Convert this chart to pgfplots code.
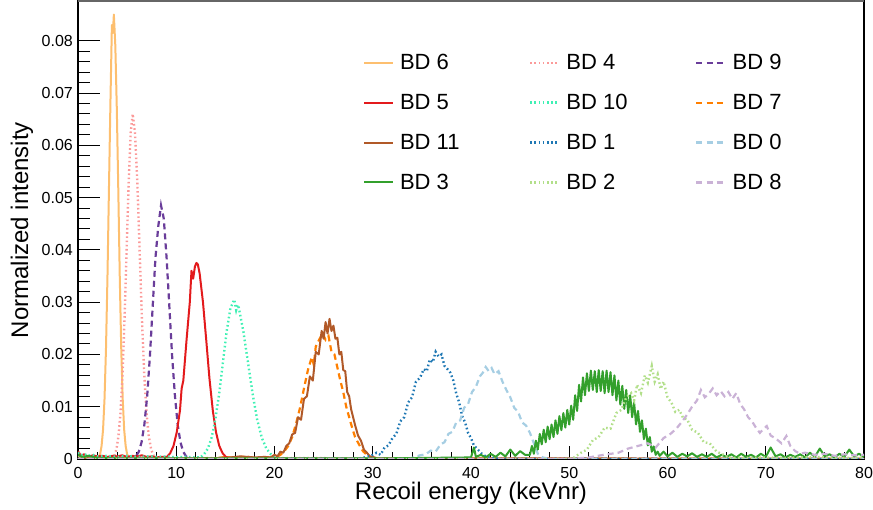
\documentclass[border=0pt]{standalone}
\usepackage{fontspec}
\setmainfont{Liberation Sans}
\usepackage{pgfplots}
\pgfplotsset{compat=1.18}
\definecolor{cSix}{HTML}{FDBF6F}
\definecolor{cFive}{HTML}{E31A1C}
\definecolor{cEleven}{HTML}{B15928}
\definecolor{cThree}{HTML}{33A02C}
\definecolor{cFour}{HTML}{FB9A99}
\definecolor{cTen}{HTML}{40F0B4}
\definecolor{cOne}{HTML}{1F78B4}
\definecolor{cTwo}{HTML}{B2DF8A}
\definecolor{cNine}{HTML}{6A3D9A}
\definecolor{cSeven}{HTML}{FF7F00}
\definecolor{cZero}{HTML}{A6CEE3}
\definecolor{cEight}{HTML}{CAB2D6}
\newcommand{\legtxt}[1]{\hspace{6pt}\makebox[129pt][l]{\rule[-4pt]{0pt}{20pt}#1}}
\tikzset{
  solidln/.style={line width=2pt, line join=round},
  dotln/.style={line width=2.4pt, dash pattern=on 1.6pt off 2.6pt},
  dashln/.style={line width=2.2pt, dash pattern=on 6pt off 4pt},
}
\begin{document}
\begin{tikzpicture}
\begin{axis}[
  name=ax, scale only axis, width=786pt, height=458pt,
  xmin=0, xmax=80, ymin=0, ymax=0.0876,
  xtick={0,10,20,30,40,50,60,70,80},
  xticklabels={0,10,20,30,40,50,60,70,80},
  ytick={0,0.01,0.02,0.03,0.04,0.05,0.06,0.07,0.08},
  yticklabels={0,0.01,0.02,0.03,0.04,0.05,0.06,0.07,0.08},
  minor x tick num=4, minor y tick num=4,
  tick align=inside, xtick pos=left, ytick pos=left,
  major tick length=22pt, minor tick length=12pt,
  xtick style={/pgfplots/major tick length=13pt,/pgfplots/minor tick length=6.5pt},
  tick style={black, line width=1pt},
  axis line style={black, line width=1.5pt},
  ticklabel style={font=\fontsize{16}{19}\selectfont},
  xticklabel style={anchor=north, inner sep=0pt, yshift=-8pt},
  yticklabel style={anchor=east, inner sep=0pt, xshift=-5pt},
  xlabel={Recoil energy (keVnr)}, ylabel={Normalized intensity},
  label style={font=\fontsize{24}{28}\selectfont},
  xlabel style={at={(axis description cs:0.5,-0.0895)}, anchor=base, inner sep=0pt},
  ylabel style={at={(axis description cs:-0.0712,0.5)}, anchor=center, inner sep=0pt},
  legend columns=3,
  legend cell align=left,
  legend style={draw=none, fill=none, inner sep=0pt, outer sep=0pt,
    at={(rel axis cs:0.3626,0.8843)}, anchor=north west,
    font=\fontsize{22}{26}\selectfont, nodes={inner sep=0pt},
    row sep=22.4pt, column sep=0pt},
  legend image code/.code={\draw[#1] (0pt,0pt) -- (29pt,0pt);},
]
% BD 6
\addplot[cSix, solidln] coordinates {(0,0.0006)(0.4,0.0003)(0.8,0.0004)(1.2,0.0002)(1.6,0.0003)(2.0,0.0002)(2.25,0.0009)(2.4,0.0025)(2.55,0.0056)(2.7,0.0115)(2.85,0.0212)(3.0,0.0349)(3.15,0.0516)(3.3,0.0681)(3.45,0.0830)(3.55,0.0815)(3.65,0.0850)(3.8,0.0790)(3.95,0.0670)(4.1,0.0516)(4.25,0.0349)(4.4,0.0212)(4.55,0.0115)(4.7,0.0056)(4.85,0.0025)(5.0,0.0009)(5.2,0.0002)(6,0)(80,0)};
\addlegendentry{\legtxt{BD 6}}
% BD 4
\addplot[cFour, dotln] coordinates {(0,0)(3.5,0.0001)(3.71,0.0007)(3.92,0.0019)(4.12,0.0044)(4.33,0.0089)(4.54,0.0164)(4.74,0.0271)(4.95,0.0400)(5.16,0.0529)(5.36,0.0624)(5.57,0.0660)(5.80,0.0624)(6.04,0.0529)(6.27,0.0400)(6.50,0.0271)(6.74,0.0164)(6.97,0.0089)(7.20,0.0044)(7.44,0.0019)(7.67,0.0007)(8.0,0.0002)(80,0)};
\addlegendentry{\legtxt{BD 4}}
% BD 9
\addplot[cNine, dashln] coordinates {(0,0)(5.6,0.0001)(5.90,0.0005)(6.19,0.0014)(6.47,0.0032)(6.75,0.0065)(7.04,0.0120)(7.32,0.0197)(7.60,0.0291)(7.88,0.0384)(8.17,0.0445)(8.45,0.0485)(8.73,0.0460)(9.02,0.0384)(9.30,0.0291)(9.58,0.0197)(9.87,0.0120)(10.15,0.0065)(10.43,0.0032)(10.71,0.0014)(11.0,0.0005)(11.4,0.0001)(80,0)};
\addlegendentry{\legtxt{BD 9}}
% BD 5
\addplot[cFive, solidln] coordinates {(0,0.0015)(0.3,0.0006)(0.6,0.0009)(1.0,0.0004)(1.5,0.0007)(2,0.0005)(2.5,0.0006)(3,0.0004)(3.5,0.0006)(4,0.0005)(4.5,0.0007)(5,0.0004)(5.5,0.0006)(6,0.0005)(6.5,0.0007)(7,0.0004)(7.5,0.0005)(8,0.0003)(8.5,0.0004)(9.05,0.0004)(9.38,0.0011)(9.72,0.0025)(10.05,0.0051)(10.38,0.0093)(10.55,0.0135)(10.72,0.0150)(11.05,0.0228)(11.38,0.0300)(11.55,0.0360)(11.72,0.0345)(11.9,0.0368)(12.05,0.0375)(12.2,0.0372)(12.38,0.0355)(12.72,0.0300)(13.05,0.0228)(13.38,0.0154)(13.72,0.0093)(14.05,0.0051)(14.38,0.0025)(14.72,0.0011)(15.05,0.0004)(15.5,0.0002)(16,0.0001)(80,0)};
\addlegendentry{\legtxt{BD 5}}
% BD 10
\addplot[cTen, dotln] coordinates {(0,0.0012)(0.3,0.0007)(0.6,0.0010)(1.0,0.0006)(1.5,0.0008)(2.0,0.0005)(3,0.0006)(4,0.0004)(5,0.0006)(6,0.0004)(7,0.0005)(8,0.0004)(9,0.0005)(10,0.0003)(11,0.0004)(12,0.0003)(12.45,0.0003)(12.83,0.0009)(13.22,0.0020)(13.60,0.0041)(13.98,0.0076)(14.37,0.0125)(14.75,0.0185)(15.13,0.0244)(15.52,0.0289)(15.7,0.0296)(15.9,0.0305)(16.1,0.0285)(16.25,0.0295)(16.37,0.0289)(16.83,0.0244)(17.30,0.0185)(17.77,0.0125)(18.23,0.0076)(18.70,0.0041)(19.17,0.0020)(19.63,0.0009)(20.1,0.0003)(20.6,0.0001)(80,0)};
\addlegendentry{\legtxt{BD 10}}
% BD 7
\addplot[cSeven, dashln] coordinates {(0,0)(14,0.0001)(15,0.0004)(16,0.0002)(17,0.0005)(18,0.0002)(19,0.0004)(20.0,0.0002)(20.6,0.0008)(21.0,0.0015)(21.4,0.0025)(21.8,0.0042)(22.2,0.0068)(22.6,0.0098)(23.0,0.0135)(23.4,0.0170)(23.8,0.0195)(24.0,0.0180)(24.2,0.0215)(24.6,0.0230)(24.9,0.0240)(25.2,0.0228)(25.5,0.0235)(25.8,0.0205)(26.1,0.0200)(26.4,0.0175)(26.7,0.0150)(27.0,0.0128)(27.3,0.0100)(27.6,0.0080)(27.9,0.0060)(28.2,0.0042)(28.6,0.0028)(29.0,0.0015)(29.4,0.0008)(29.8,0.0003)(30.5,0.0001)(80,0)};
\addlegendentry{\legtxt{BD 7}}
% BD 11
\addplot[cEleven, solidln] coordinates {(0,0)(15,0.0002)(16.5,0.0005)(18,0.0003)(19.0,0.0004)(19.6,0.0003)(20.0,0.0008)(20.3,0.0005)(20.6,0.0014)(20.9,0.0012)(21.2,0.0025)(21.5,0.0030)(21.8,0.0047)(22.1,0.0050)(22.4,0.0080)(22.7,0.0075)(23.0,0.0115)(23.3,0.0120)(23.6,0.0158)(23.9,0.0150)(24.2,0.0205)(24.5,0.0200)(24.8,0.0245)(25.0,0.0230)(25.2,0.0262)(25.4,0.0240)(25.6,0.0268)(25.8,0.0245)(26.0,0.0255)(26.2,0.0230)(26.4,0.0232)(26.6,0.0200)(26.8,0.0205)(27.0,0.0170)(27.2,0.0168)(27.4,0.0128)(27.6,0.0120)(27.8,0.0095)(28.0,0.0080)(28.2,0.0065)(28.5,0.0045)(28.8,0.0035)(29.1,0.0018)(29.4,0.0012)(29.7,0.0005)(30.0,0.0004)(30.5,0.0001)(80,0)};
\addlegendentry{\legtxt{BD 11}}
% BD 1
\addplot[cOne, dotln] coordinates {(0,0)(28,0)(29.0,0.0002)(29.8,0.0006)(30.4,0.0012)(30.8,0.0008)(31.2,0.0022)(31.6,0.0026)(32.0,0.0040)(32.4,0.0048)(32.8,0.0072)(33.2,0.0080)(33.6,0.0108)(34.0,0.0118)(34.4,0.0148)(34.8,0.0155)(35.2,0.0172)(35.5,0.0168)(35.8,0.0190)(36.1,0.0185)(36.4,0.0205)(36.7,0.0196)(37.0,0.0200)(37.3,0.0178)(37.6,0.0172)(37.9,0.0165)(38.2,0.0150)(38.5,0.0125)(38.8,0.0108)(39.1,0.0082)(39.4,0.0070)(39.7,0.0050)(40.0,0.0040)(40.3,0.0026)(40.7,0.0018)(41.1,0.0010)(41.5,0.0005)(42.0,0.0002)(43,0)(80,0)};
\addlegendentry{\legtxt{BD 1}}
% BD 0
\addplot[cZero, dashln] coordinates {(0,0)(33,0)(34.0,0.0002)(34.8,0.0007)(35.4,0.0009)(35.9,0.0016)(36.4,0.0014)(36.9,0.0028)(37.3,0.0032)(37.7,0.0048)(38.1,0.0052)(38.5,0.0070)(38.9,0.0074)(39.3,0.0098)(39.7,0.0105)(40.1,0.0128)(40.5,0.0138)(40.9,0.0158)(41.2,0.0165)(41.5,0.0176)(41.8,0.0168)(42.1,0.0174)(42.4,0.0162)(42.8,0.0168)(43.2,0.0148)(43.6,0.0132)(44.0,0.0118)(44.4,0.0098)(44.8,0.0090)(45.2,0.0070)(45.6,0.0064)(46.0,0.0050)(46.4,0.0030)(46.8,0.0010)(47.3,0.0003)(48,0)(80,0)};
\addlegendentry{\legtxt{BD 0}}
% BD 3
\addplot[cThree, solidln] coordinates {(0,0.0008)(0.5,0.0003)(1,0.0006)(2,0.0002)(5,0.0001)(30,0.0001)(35,0.0002)(40,0.0003)(40.3,0.0022)(40.5,0.0004)(41,0.0008)(41.5,0.0003)(42,0.0010)(42.5,0.0004)(43,0.0012)(43.5,0.0005)(44,0.0018)(44.5,0.0006)(45,0.0015)(45.5,0.0008)(46.0,0.0008)(46.2,0.0025)(46.4,0.0010)(46.6,0.0035)(46.8,0.0018)(47.0,0.0048)(47.2,0.0028)(47.4,0.0056)(47.6,0.0032)(47.8,0.0062)(48.0,0.0038)(48.2,0.0066)(48.4,0.0042)(48.6,0.0074)(48.8,0.0048)(49.0,0.0082)(49.2,0.0055)(49.4,0.0088)(49.6,0.0060)(49.8,0.0094)(50.0,0.0066)(50.2,0.0102)(50.4,0.0075)(50.6,0.0122)(50.8,0.0092)(51.0,0.0142)(51.2,0.0110)(51.4,0.0156)(51.6,0.0122)(51.8,0.0164)(52.0,0.0130)(52.2,0.0169)(52.4,0.0132)(52.6,0.0168)(52.8,0.0128)(53.0,0.0170)(53.2,0.0130)(53.4,0.0168)(53.6,0.0126)(53.8,0.0169)(54.0,0.0128)(54.2,0.0166)(54.4,0.0122)(54.6,0.0160)(54.8,0.0112)(55.0,0.0150)(55.2,0.0104)(55.4,0.0140)(55.6,0.0096)(55.8,0.0132)(56.0,0.0088)(56.2,0.0122)(56.4,0.0080)(56.6,0.0108)(56.8,0.0066)(57.0,0.0092)(57.2,0.0052)(57.4,0.0074)(57.6,0.0038)(57.8,0.0058)(58.0,0.0026)(58.2,0.0042)(58.4,0.0014)(58.6,0.0024)(58.8,0.0008)(59.0,0.0014)(59.2,0.0006)(59.6,0.0014)(60.0,0.0005)(60.5,0.0012)(61,0.0004)(61.5,0.0010)(62,0.0005)(62.5,0.0011)(63,0.0004)(63.5,0.0009)(64,0.0004)(64.5,0.0010)(65,0.0003)(65.5,0.0008)(66,0.0004)(66.5,0.0009)(67,0.0003)(67.5,0.0010)(68,0.0004)(68.5,0.0008)(69,0.0003)(69.5,0.0010)(70,0.0004)(70.5,0.0022)(71,0.0005)(71.5,0.0009)(72,0.0003)(72.5,0.0008)(73,0.0004)(73.5,0.0009)(74,0.0003)(74.5,0.0012)(75,0.0004)(75.5,0.0020)(76,0.0005)(76.5,0.0009)(77,0.0003)(77.5,0.0010)(78,0.0004)(78.5,0.0018)(79,0.0005)(79.5,0.0010)(80,0.0004)};
\addlegendentry{\legtxt{BD 3}}
% BD 2
\addplot[cTwo, dotln] coordinates {(0,0)(50,0)(50.5,0.0003)(51.2,0.0012)(51.8,0.0018)(52.4,0.0036)(53.0,0.0042)(53.6,0.0060)(54.2,0.0058)(54.8,0.0088)(55.3,0.0094)(55.8,0.0118)(56.3,0.0126)(56.6,0.0112)(56.9,0.0142)(57.3,0.0126)(57.7,0.0160)(58.0,0.0146)(58.4,0.0178)(58.7,0.0148)(59.0,0.0162)(59.3,0.0134)(59.6,0.0148)(60.0,0.0118)(60.4,0.0108)(60.8,0.0090)(61.2,0.0094)(61.6,0.0078)(62.0,0.0076)(62.5,0.0056)(63.1,0.0050)(63.7,0.0032)(64.3,0.0030)(65.0,0.0014)(65.6,0.0009)(66.2,0.0003)(67,0.0002)(70,0.0003)(72,0.0002)(75,0.0004)(78,0.0002)(80,0.0003)};
\addlegendentry{\legtxt{BD 2}}
% BD 8
\addplot[cEight, dashln] coordinates {(0,0)(50,0)(52.0,0.0003)(53.5,0.0008)(55.0,0.0012)(56.0,0.0020)(57.0,0.0025)(58.0,0.0030)(58.8,0.0022)(59.6,0.0040)(60.3,0.0048)(60.9,0.0058)(61.5,0.0072)(62.0,0.0085)(62.5,0.0100)(63.0,0.0112)(63.4,0.0132)(63.8,0.0118)(64.2,0.0125)(64.6,0.0135)(65.0,0.0122)(65.4,0.0130)(65.8,0.0120)(66.2,0.0128)(66.6,0.0115)(67.0,0.0126)(67.4,0.0105)(67.8,0.0095)(68.2,0.0080)(68.6,0.0072)(69.0,0.0060)(69.4,0.0050)(69.8,0.0058)(70.1,0.0063)(70.5,0.0045)(71.1,0.0038)(71.6,0.0030)(72.1,0.0044)(72.5,0.0025)(73.0,0.0015)(73.5,0.0010)(74,0.0012)(75,0.0008)(76,0.0010)(77,0.0006)(78,0.0009)(79,0.0007)(80,0.0008)};
\addlegendentry{\legtxt{BD 8}}
\end{axis}
\draw[black!60, line width=1.5pt] (ax.north west) -- (ax.north east);
\pgfresetboundingbox
\useasboundingbox ([shift={(-78pt,-51pt)}]ax.south west) rectangle ([shift={(9pt,1pt)}]ax.north east);
\end{tikzpicture}
\end{document}
